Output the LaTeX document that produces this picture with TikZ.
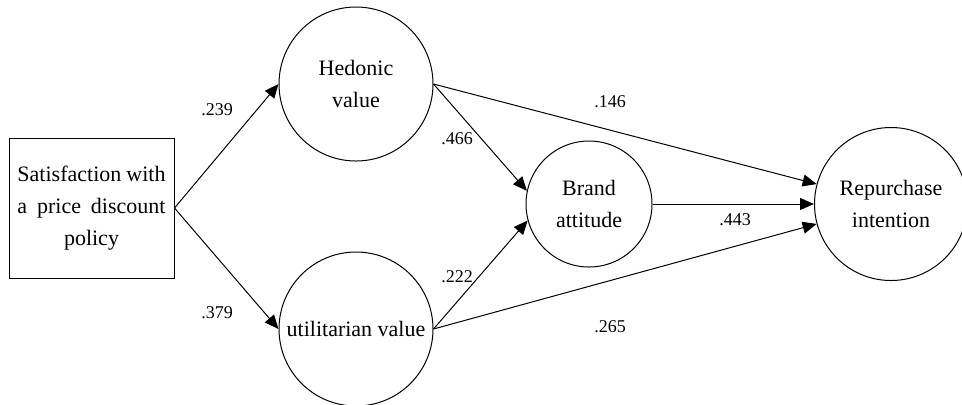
\documentclass[tikz,border=0pt]{standalone}
\usepackage{fontspec}
\setmainfont{Liberation Serif}
\usetikzlibrary{arrows.meta,positioning}

\begin{document}
\begin{tikzpicture}[x=0.5pt,y=-0.5pt,
  latent/.style={draw, circle, line width=0.5pt, inner sep=0pt, align=center, font=\fontsize{11}{16}\selectfont},
  observed/.style={draw, rectangle, line width=0.5pt, inner sep=0pt, align=center, font=\fontsize{11}{16}\selectfont},
  effect/.style={line width=0.5pt, -{Triangle[length=7pt,width=6pt]}},
  coef/.style={font=\fontsize{9}{11}\selectfont}]
  \useasboundingbox (0,0) rectangle (962,404);

  % Exogenous variable (left)
  \node[observed, minimum width=82.5pt, minimum height=70pt] (sat) at (91.5,208)
    {\makebox[74pt][s]{Satisfaction with}\\\makebox[74pt][s]{a price discount}\\policy};

  % Mediators
  \node[latent, minimum size=77pt] (hed) at (356,84) {Hedonic\\value};
  \node[latent, minimum size=77pt] (utl) at (356,329) {utilitarian value};
  \node[latent, minimum size=63pt] (brand) at (589,204) {Brand\\attitude};

  % Outcome (right)
  \node[latent, minimum size=76.5pt] (rep) at (891,204) {Repurchase\\intention};

  % Paths
  \draw[effect] (sat.east) -- (hed.west);
  \draw[effect] (sat.east) -- (utl.west);
  \draw[effect] (hed.east) -- (brand.168);
  \draw[effect] (utl.east) -- (brand.195);
  \draw[effect] (hed.east) -- (rep.165);
  \draw[effect] (brand.east) -- (rep.west);
  \draw[effect] (utl.east) -- (rep.195);

  % Path coefficients
  \node[coef] (c239) at (217,110) {.239};
  \node[coef] (c379) at (217,313) {.379};
  \node[coef] (c466) at (457,139) {.466};
  \node[coef] (c222) at (457,277) {.222};
  \node[coef] (c146) at (610,102) {.146};
  \node[coef] (c443) at (735,220) {.443};
  \node[coef] (c265) at (610,327) {.265};
\end{tikzpicture}
\end{document}
